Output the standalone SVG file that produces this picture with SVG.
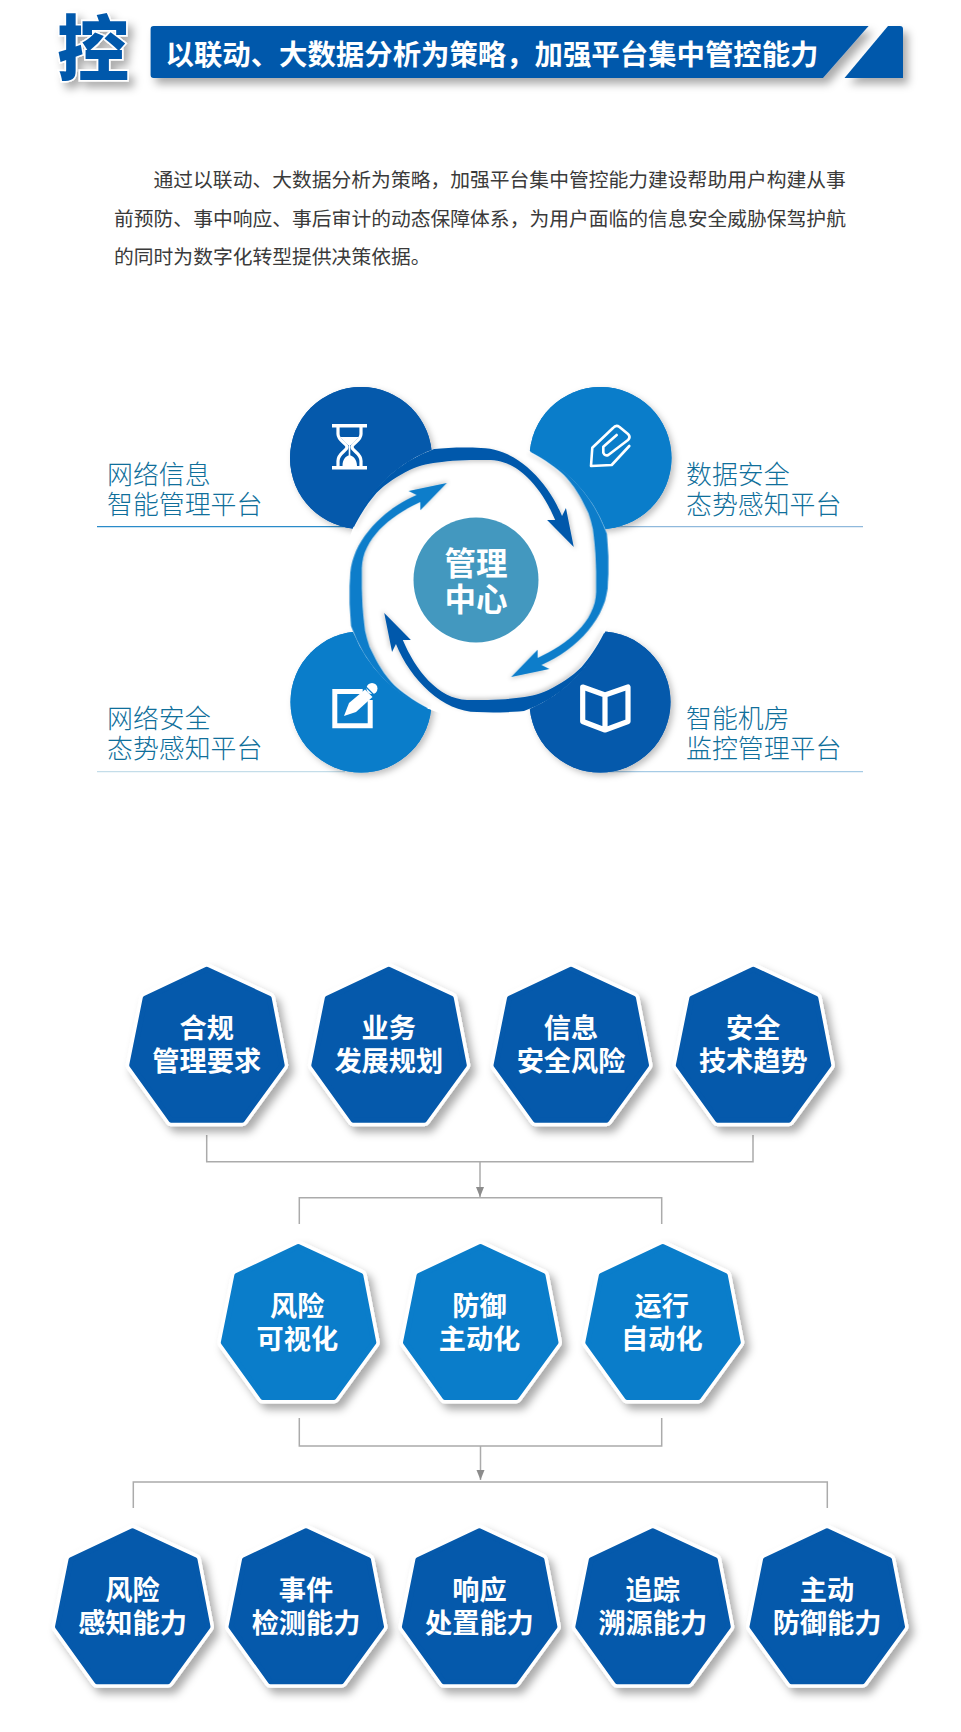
<svg xmlns="http://www.w3.org/2000/svg" xmlns:xlink="http://www.w3.org/1999/xlink" width="961" height="1732" viewBox="0 0 961 1732">
<style>
text{font-family:"Noto Sans CJK SC","Noto Sans",sans-serif}
.dark{fill:#0559ab}.light{fill:#0a7dca}
.lab{font-size:25.9px;font-weight:300;fill:#0f6f9b}
.para{font-size:19.8px;font-weight:400;fill:#3a3a3a}
.w{fill:#fff;font-weight:700;text-anchor:middle}
.hl{font-size:27.2px}
.ic{fill:none;stroke:#fff}
.conn{fill:none;stroke:#ababab;stroke-width:1.5}
.halo{fill:#fff;stroke:#fff;stroke-width:12;stroke-linejoin:round}
.hd{stroke:#0559ab;fill:#0559ab;stroke-width:5;stroke-linejoin:round}
.hm{stroke:#0a7dca;fill:#0a7dca;stroke-width:5;stroke-linejoin:round}
</style>
<defs>
<filter id="sh" x="-20%" y="-20%" width="150%" height="150%"><feDropShadow dx="5" dy="6" stdDeviation="4" flood-color="#000" flood-opacity=".33"/></filter>
<filter id="sh2" x="-20%" y="-20%" width="150%" height="150%"><feDropShadow dx="3" dy="3" stdDeviation="3" flood-color="#000" flood-opacity=".25"/></filter>
<filter id="sh3" x="-20%" y="-20%" width="150%" height="150%"><feDropShadow dx="2" dy="2" stdDeviation="2" flood-color="#000" flood-opacity=".2"/></filter>
<marker id="ah" markerUnits="userSpaceOnUse" markerWidth="10" markerHeight="12" refX="4" refY="10" orient="0" overflow="visible"><path d="M0,0 L8,0 L4,10Z" fill="#8c8c8c"/></marker>
<polygon id="hp" points="0,2.5 62.5,31.5 75.5,98.5 35.5,153.5 -35.5,153.5 -75,98.5 -61.5,31.5"/>
<path id="cres" d="M350,527 C358,512 365,502 373,493 C383,483 395,476 407,470 C418,465 428,463 440,462 C455,460 470,460 490,460 C520,461 543,490 556,520 L547.7,520 L575,547 L567,508 L563,516 C548,480 515,448 480,448 C460,447 445,448 432,449 A140.5,140.5 0 0 0 349,526Z"/>
<clipPath id="outside"><path clip-rule="evenodd" d="M0,0 H961 V1000 H0Z M343,580 A136,139 0 1 0 615,580 A136,139 0 1 0 343,580Z"/></clipPath>
<circle id="c1" cx="361" cy="458" r="71"/>
<circle id="c2" cx="600.5" cy="458" r="71"/>
<circle id="c3" cx="361" cy="702" r="70.5"/>
<circle id="c4" cx="600" cy="702" r="70.5"/>
</defs>
<rect width="961" height="1732" fill="#fff"/>

<g id="header">
<text x="93" y="75" font-size="72" text-anchor="middle" style="font-weight:900;fill:#0559ab;stroke:#fff;stroke-width:3;paint-order:stroke" filter="url(#sh)">控</text>
<path class="dark" filter="url(#sh)" d="M153.6,26 H868.6 L823,78 H153.6 Q150.6,78 150.6,75 V29 Q150.6,26 153.6,26Z"/>
<path class="dark" filter="url(#sh)" d="M888,26 H900 Q903,26 903,29 V78 H844.5Z"/>
<text x="165.5" y="65" font-size="28.4" style="font-weight:700;fill:#fff">以联动、大数据分析为策略，加强平台集中管控能力</text>
</g>

<g id="intro" class="para">
<text class="para" x="153.5" y="187">通过以联动、大数据分析为策略，加强平台集中管控能力建设帮助用户构建从事</text>
<text class="para" x="114" y="226">前预防、事中响应、事后审计的动态保障体系，为用户面临的信息安全威胁保驾护航</text>
<text class="para" x="114" y="264">的同时为数字化转型提供决策依据。</text>
</g>

<g id="label-lines">
<path d="M97,526.7 H350" stroke="#2a8bc9" stroke-width="1.3"/>
<path d="M608,526.7 H863" stroke="#8fb9dc" stroke-width="1.3"/>
<path d="M97,771.7 H345" stroke="#c4dde9" stroke-width="1.3"/>
<path d="M600,771.7 H863" stroke="#a6cbe5" stroke-width="1.3"/>
</g>

<g id="circle-shadows">
<use href="#c1" class="dark" filter="url(#sh2)"/>
<use href="#c2" class="light" filter="url(#sh2)"/>
<use href="#c3" class="light" filter="url(#sh2)"/>
<use href="#c4" class="dark" filter="url(#sh2)"/>
</g>
<ellipse cx="479" cy="580" rx="136" ry="139" fill="#fff"/>

<g id="cycle-arrows" transform="matrix(.977 0 0 1 11.994 0)">
<use href="#cres" class="dark" filter="url(#sh3)"/>
<use href="#cres" class="light" filter="url(#sh3)" transform="rotate(90 478 580)"/>
<use href="#cres" class="dark" filter="url(#sh3)" transform="rotate(180 478 580)"/>
<use href="#cres" class="light" filter="url(#sh3)" transform="rotate(270 478 580)"/>
</g>

<g id="circles" clip-path="url(#outside)">
<g id="circle-tl"><use href="#c1" class="dark"/></g>
<g id="circle-tr"><use href="#c2" class="light"/></g>
<g id="circle-bl"><use href="#c3" class="light"/></g>
<g id="circle-br"><use href="#c4" class="dark"/></g>
</g>

<g id="center">
<circle cx="476" cy="580" r="62.5" fill="#4398bf"/>
<text class="w" x="476" y="575" font-size="31.5">管理</text>
<text class="w" x="476" y="611" font-size="31.5">中心</text>
</g>

<g id="icon-hourglass">
<rect x="332" y="424" width="35" height="3.5" fill="#fff"/>
<rect x="332" y="466" width="35" height="3.5" fill="#fff"/>
<path class="ic" stroke-width="3.2" d="M338,427 V434 C338,441 347,443 347,447 C347,451 338,453 338,461 V466 M361,427 V434 C361,441 352,443 352,447 C352,451 361,453 361,461 V466"/>
<path d="M340,437 H359 L351,445 H348Z M348.7,445 H350.3 V456 H348.7Z M342.5,466 C342.5,459 346,456 349.5,455 C353,456 357,459 357,466Z" fill="#fff"/>
</g>
<g id="icon-pen">
<path class="ic" stroke-width="2.6" stroke-linejoin="round" stroke-linecap="round" d="M629.3,446 L611.7,465 L591,466 L592.3,447.7 L613,428 Q616,424.5 619.5,427 L628,434 Q631,437 628,440 L608.3,455 Q605,456.5 603.3,452.7 V446.7 L616.7,435"/>
</g>
<g id="icon-note">
<path class="ic" stroke-width="5" d="M362.7,691.5 H334.8 V725.8 H370.2 V700"/>
<path d="M344,716 L349,703 L365,689.5 L372.5,697 L356,712Z" fill="#fff"/>
<circle cx="372" cy="688.5" r="5.5" fill="#fff"/>
<path d="M365.5,686.5 L374.5,695.5" stroke="#0a7dca" stroke-width="1.2"/>
</g>
<g id="icon-book">
<path class="ic" stroke-width="5.2" stroke-linejoin="round" d="M582.7,687 L605,695 L628,687 V721.5 L605,730 L582.7,721.5Z M605,695 V730"/>
</g>

<g id="label-1"><text class="lab" x="107" y="484">网络信息</text><text class="lab" x="107" y="514">智能管理平台</text></g>
<g id="label-2"><text class="lab" x="686" y="484">数据安全</text><text class="lab" x="686" y="514">态势感知平台</text></g>
<g id="label-3"><text class="lab" x="107" y="728">网络安全</text><text class="lab" x="107" y="758">态势感知平台</text></g>
<g id="label-4"><text class="lab" x="686" y="728">智能机房</text><text class="lab" x="686" y="758">监控管理平台</text></g>

<g id="connectors">
<path class="conn" d="M206.7,1135 V1161.7 H753 V1135"/>
<path class="conn" d="M480,1162 V1197" marker-end="url(#ah)"/>
<path class="conn" d="M299.3,1224 V1197.7 H661.7 V1224"/>
<path class="conn" d="M299.3,1418 V1446 H661.7 V1418"/>
<path class="conn" d="M480.5,1446 V1480" marker-end="url(#ah)"/>
<path class="conn" d="M133.3,1508 V1482 H827.3 V1508"/>
</g>

<g id="h1-1" transform="translate(206.7 966.7)"><use href="#hp" class="halo" filter="url(#sh)"/><use href="#hp" class="hd"/><text class="w hl" y="71.5">合规</text><text class="w hl" y="104.5">管理要求</text></g>
<g id="h1-2" transform="translate(388.8 966.7)"><use href="#hp" class="halo" filter="url(#sh)"/><use href="#hp" class="hd"/><text class="w hl" y="71.5">业务</text><text class="w hl" y="104.5">发展规划</text></g>
<g id="h1-3" transform="translate(571 966.7)"><use href="#hp" class="halo" filter="url(#sh)"/><use href="#hp" class="hd"/><text class="w hl" y="71.5">信息</text><text class="w hl" y="104.5">安全风险</text></g>
<g id="h1-4" transform="translate(753.3 966.7)"><use href="#hp" class="halo" filter="url(#sh)"/><use href="#hp" class="hd"/><text class="w hl" y="71.5">安全</text><text class="w hl" y="104.5">技术趋势</text></g>

<g id="h2-1" transform="translate(298.3 1244)"><use href="#hp" class="halo" filter="url(#sh)"/><use href="#hp" class="hm"/><text class="w hl" x="-1" y="71.5">风险</text><text class="w hl" x="-1" y="104.5">可视化</text></g>
<g id="h2-2" transform="translate(480.5 1244)"><use href="#hp" class="halo" filter="url(#sh)"/><use href="#hp" class="hm"/><text class="w hl" x="-1" y="71.5">防御</text><text class="w hl" x="-1" y="104.5">主动化</text></g>
<g id="h2-3" transform="translate(662.8 1244)"><use href="#hp" class="halo" filter="url(#sh)"/><use href="#hp" class="hm"/><text class="w hl" x="-1" y="71.5">运行</text><text class="w hl" x="-1" y="104.5">自动化</text></g>

<g id="h3-1" transform="translate(132.5 1528.3)"><use href="#hp" class="halo" filter="url(#sh)"/><use href="#hp" class="hd"/><text class="w hl" y="71.5">风险</text><text class="w hl" y="104.5">感知能力</text></g>
<g id="h3-2" transform="translate(306 1528.3)"><use href="#hp" class="halo" filter="url(#sh)"/><use href="#hp" class="hd"/><text class="w hl" y="71.5">事件</text><text class="w hl" y="104.5">检测能力</text></g>
<g id="h3-3" transform="translate(479.4 1528.3)"><use href="#hp" class="halo" filter="url(#sh)"/><use href="#hp" class="hd"/><text class="w hl" y="71.5">响应</text><text class="w hl" y="104.5">处置能力</text></g>
<g id="h3-4" transform="translate(652.8 1528.3)"><use href="#hp" class="halo" filter="url(#sh)"/><use href="#hp" class="hd"/><text class="w hl" y="71.5">追踪</text><text class="w hl" y="104.5">溯源能力</text></g>
<g id="h3-5" transform="translate(827 1528.3)"><use href="#hp" class="halo" filter="url(#sh)"/><use href="#hp" class="hd"/><text class="w hl" y="71.5">主动</text><text class="w hl" y="104.5">防御能力</text></g>
</svg>
